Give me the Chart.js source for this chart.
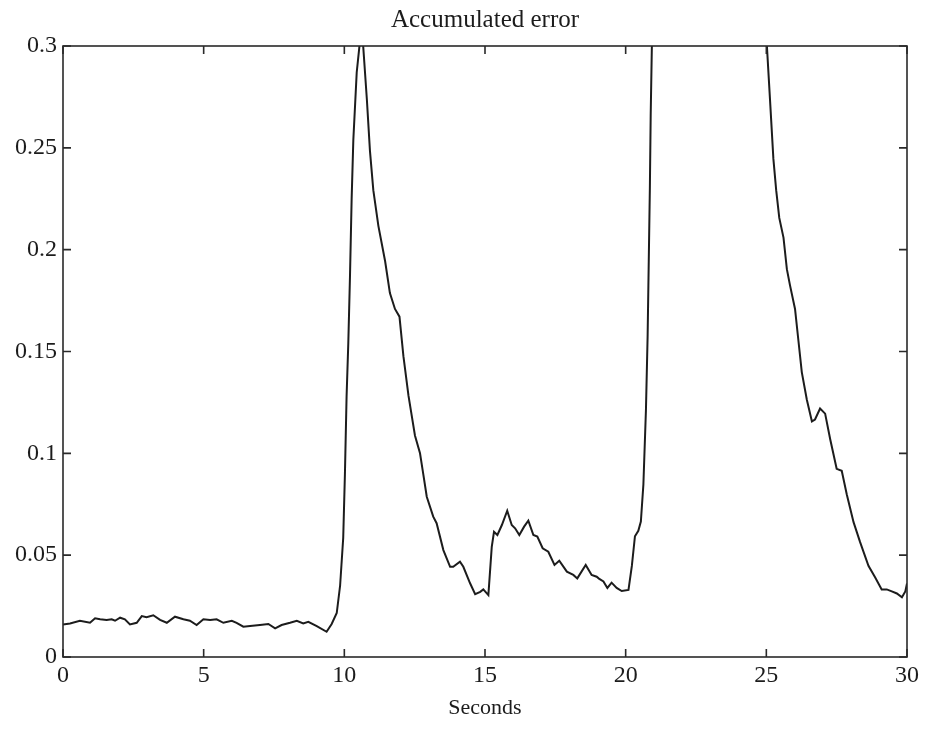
<!DOCTYPE html>
<html>
<head>
<meta charset="utf-8">
<title>Accumulated error</title>
<script src="https://cdn.jsdelivr.net/npm/chart.js@4.4.1/dist/chart.umd.min.js"></script>
<style>
  html, body { margin: 0; padding: 0; background: #fff; }
  #wrap { width: 929px; height: 741px; }
</style>
</head>
<body>
<div id="wrap"><canvas id="chart" width="929" height="741"></canvas></div>
<script>
// time axis (seconds) and accumulated error
const seconds = [
    0.00, 0.25, 0.60, 0.96, 1.14, 1.32, 1.55, 1.73, 1.85, 2.03,
    2.20, 2.38, 2.62, 2.80, 2.97, 3.21, 3.45, 3.69, 3.98, 4.28,
    4.51, 4.75, 4.99, 5.23, 5.46, 5.70, 6.00, 6.17, 6.41, 6.65,
    7.00, 7.30, 7.54, 7.77, 8.07, 8.31, 8.54, 8.72, 9.02, 9.37,
    9.55, 9.73, 9.85, 9.96, 10.02, 10.08, 10.14, 10.20, 10.26, 10.32,
    10.44, 10.56, 10.66, 10.80, 10.91, 11.03, 11.21, 11.45, 11.62, 11.80,
    11.96, 12.10, 12.28, 12.51, 12.69, 12.81, 12.93, 13.16, 13.28, 13.52,
    13.76, 13.87, 14.11, 14.23, 14.47, 14.65, 14.83, 14.94, 15.12, 15.24,
    15.32, 15.44, 15.60, 15.79, 15.95, 16.07, 16.22, 16.39, 16.54, 16.72,
    16.86, 17.05, 17.25, 17.47, 17.64, 17.91, 18.14, 18.28, 18.58, 18.79,
    18.97, 19.05, 19.21, 19.35, 19.50, 19.68, 19.86, 20.10, 20.22, 20.33,
    20.45, 20.54, 20.63, 20.72, 20.78, 20.82, 20.86, 20.89, 20.93, 21.00,
    21.50, 22.50, 23.50, 24.50, 24.95, 25.02, 25.13, 25.25, 25.35, 25.46,
    25.61, 25.73, 25.84, 26.02, 26.14, 26.26, 26.44, 26.62, 26.73, 26.91,
    27.09, 27.27, 27.50, 27.68, 27.86, 28.10, 28.33, 28.63, 28.87, 29.10,
    29.28, 29.46, 29.64, 29.82, 29.94, 30.00
];
const errorValues = [
    0.0160, 0.0165, 0.0178, 0.0168, 0.0190, 0.0185, 0.0182, 0.0185, 0.0178, 0.0193,
    0.0185, 0.0160, 0.0168, 0.0201, 0.0195, 0.0205, 0.0182, 0.0168, 0.0198, 0.0185,
    0.0178, 0.0157, 0.0185, 0.0182, 0.0185, 0.0168, 0.0178, 0.0168, 0.0149, 0.0152,
    0.0157, 0.0162, 0.0141, 0.0157, 0.0168, 0.0178, 0.0165, 0.0173, 0.0152, 0.0124,
    0.0162, 0.0216, 0.0351, 0.0584, 0.0894, 0.1280, 0.1537, 0.1865, 0.2250, 0.2540,
    0.2870, 0.3030, 0.3020, 0.2740, 0.2486, 0.2292, 0.2117, 0.1943, 0.1787, 0.1709,
    0.1671, 0.1477, 0.1283, 0.1088, 0.1000, 0.0894, 0.0787, 0.0689, 0.0657, 0.0525,
    0.0443, 0.0443, 0.0468, 0.0443, 0.0362, 0.0309, 0.0320, 0.0332, 0.0304, 0.0541,
    0.0615, 0.0599, 0.0648, 0.0718, 0.0648, 0.0632, 0.0599, 0.0640, 0.0669, 0.0599,
    0.0591, 0.0534, 0.0517, 0.0452, 0.0473, 0.0419, 0.0403, 0.0386, 0.0452, 0.0403,
    0.0394, 0.0385, 0.0371, 0.0339, 0.0365, 0.0339, 0.0324, 0.0329, 0.0447, 0.0593,
    0.0620, 0.0665, 0.0847, 0.1210, 0.1574, 0.1938, 0.2302, 0.2666, 0.2990, 0.3300,
    0.4200, 0.5000, 0.4800, 0.4000, 0.3100, 0.3000, 0.2738, 0.2447, 0.2292, 0.2156,
    0.2059, 0.1904, 0.1826, 0.1709, 0.1554, 0.1399, 0.1263, 0.1157, 0.1166, 0.1220,
    0.1195, 0.1069, 0.0924, 0.0914, 0.0798, 0.0662, 0.0565, 0.0448, 0.0390, 0.0332,
    0.0332, 0.0322, 0.0312, 0.0293, 0.0322, 0.0361
];
const xTicks = [0, 5, 10, 15, 20, 25, 30];
const yTicks = [0, 0.05, 0.1, 0.15, 0.2, 0.25, 0.3];

const serif = 'Liberation Serif';
const ink = '#1c1c1c';

// box round the plot with inward ticks on all four sides, like the original
const frameTicks = {
    id: 'frameTicks',
    afterDatasetsDraw(chart) {
        const { ctx, chartArea: a, scales: { x, y } } = chart;
        const len = 8;
        ctx.save();
        ctx.strokeStyle = '#2a2a2a';
        ctx.lineWidth = 1.6;
        ctx.strokeRect(a.left, a.top, a.right - a.left, a.bottom - a.top);
        ctx.beginPath();
        x.ticks.forEach((t) => {
            const px = x.getPixelForValue(t.value);
            ctx.moveTo(px, a.bottom);
            ctx.lineTo(px, a.bottom - len);
            ctx.moveTo(px, a.top);
            ctx.lineTo(px, a.top + len);
        });
        y.ticks.forEach((t) => {
            const py = y.getPixelForValue(t.value);
            ctx.moveTo(a.left, py);
            ctx.lineTo(a.left + len, py);
            ctx.moveTo(a.right, py);
            ctx.lineTo(a.right - len, py);
        });
        ctx.stroke();
        ctx.restore();
    }
};

const points = seconds.map((s, i) => ({ x: s, y: errorValues[i] }));

new Chart(document.getElementById('chart'), {
    type: 'line',
    data: {
        datasets: [
            {
                label: 'Accumulated error',
                data: points,
                borderColor: ink,
                borderWidth: 2,
                pointRadius: 0,
                tension: 0,
                fill: false,
            },
        ]
    },
    options: {
        responsive: false,
        animation: false,
        devicePixelRatio: 1,
        layout: {
            padding: { top: 0, right: 22, bottom: 0, left: 0 },
        },
        plugins: {
            legend: { display: false },
            tooltip: { enabled: false },
        },
        scales: {
            x: {
                type: 'linear',
                min: 0,
                max: 30,
                afterBuildTicks: (scale) => {
                    scale.ticks = xTicks.map((v) => ({ value: v }));
                },
                afterFit: (scale) => {
                    scale.height = 84;
                },
                grid: { display: false, drawTicks: false },
                border: { display: false },
                ticks: {
                    color: ink,
                    padding: 4,
                    maxRotation: 0,
                    font: { family: serif, size: 24 },
                    callback: (v) => String(v),
                },
                title: {
                    display: true,
                    text: 'Seconds',
                    color: ink,
                    font: { family: serif, size: 22, lineHeight: 1.2 },
                    padding: { top: 4, bottom: 20 },
                },
            },
            // top axis only carries the chart title, so it sits centred over the plot box
            top: {
                type: 'linear',
                position: 'top',
                min: 0,
                max: 30,
                afterFit: (scale) => {
                    scale.height = 46;
                },
                grid: { display: false, drawTicks: false },
                border: { display: false },
                ticks: { display: false },
                title: {
                    display: true,
                    text: 'Accumulated error',
                    color: ink,
                    font: { family: serif, size: 25, lineHeight: 1.2 },
                    padding: { top: 5, bottom: 6 },
                },
            },
            y: {
                type: 'linear',
                min: 0,
                max: 0.3,
                afterBuildTicks: (scale) => {
                    scale.ticks = yTicks.map((v) => ({ value: v }));
                },
                afterFit: (scale) => {
                    scale.width = 63;
                },
                grid: { display: false, drawTicks: false },
                border: { display: false },
                ticks: {
                    color: ink,
                    padding: 6,
                    font: { family: serif, size: 24 },
                    callback: (v) => String(+v.toFixed(2)),
                },
            },
        }
    },
    plugins: [frameTicks]
});
</script>
</body>
</html>
